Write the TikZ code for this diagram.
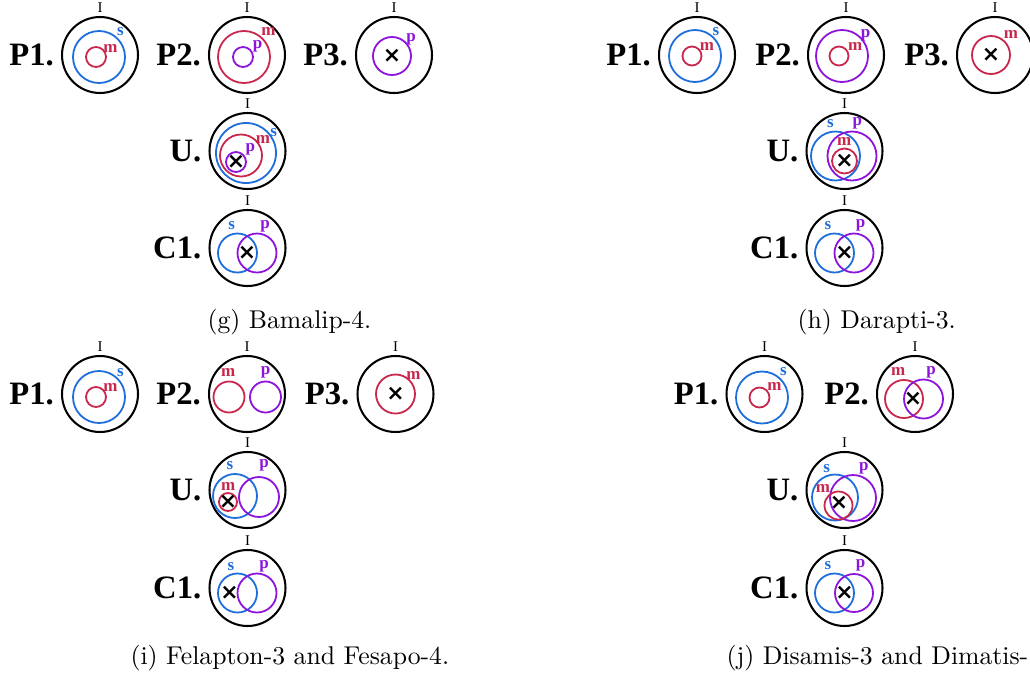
\documentclass[tikz,border=0pt]{standalone}
\usepackage{amsmath}
\usepackage{fontspec}
\usetikzlibrary{positioning}
\newfontfamily\lblfont{Liberation Serif}
\newfontfamily\xfont{DejaVu Sans}
\definecolor{sblue}{HTML}{1E6EDC}
\definecolor{mred}{HTML}{C8284E}
\definecolor{ppurple}{HTML}{8C14DC}

\begin{document}
\begin{tikzpicture}[x=0.389pt, y=-0.389pt,
  univ/.style={circle, draw=black, line width=0.8pt, minimum size=29.56pt, inner sep=0pt, outer sep=0pt},
  sset/.style={draw=sblue, line width=0.7pt},
  mset/.style={draw=mred, line width=0.7pt},
  pset/.style={draw=ppurple, line width=0.7pt},
  prem/.style={font=\lblfont\bfseries\fontsize{12.7}{14}\selectfont, inner sep=0pt},
  itop/.style={font=\lblfont\fontsize{5.8}{6}\selectfont, inner sep=0pt},
  lbl/.style={font=\lblfont\bfseries\fontsize{6.6}{7}\selectfont, inner sep=0pt, text height=3pt, text depth=0pt, text=#1},
  xmark/.style={font=\xfont\bfseries\fontsize{8.5}{9}\selectfont, inner sep=0pt},
  captext/.style={anchor=base west, inner sep=0pt, font=\fontsize{10}{12}\selectfont}
]
  \useasboundingbox (0,0) rectangle (1030,679);
  \clip (0,0) rectangle (1030,679);

  % (g) Bamalip-4
  \node[univ] (gP1) at (100,55) {};
  \node[prem, left=3pt of gP1] (gP1t) {P1.};
  \node[itop, above=1.4pt of gP1] (gP1i) {I};
  \draw[sset] (99,57) circle[radius=26];
  \draw[mset] (96,57) circle[radius=10];
  \node[lbl=sblue] (gP1s) at (120.5,32) {s};
  \node[lbl=mred] (gP1m) at (110.5,49) {m};

  \node[univ] (gP2) at (247,55) {};
  \node[prem, left=3pt of gP2] (gP2t) {P2.};
  \node[itop, above=1.4pt of gP2] (gP2i) {I};
  \draw[mset] (244,57) circle[radius=26];
  \draw[pset] (243,57) circle[radius=10];
  \node[lbl=mred] (gP2m) at (268.5,32) {m};
  \node[lbl=ppurple] (gP2p) at (257.5,45) {p};

  \node[univ] (gP3) at (394,55) {};
  \node[prem, left=3pt of gP3] (gP3t) {P3.};
  \node[itop, above=1.4pt of gP3] (gP3i) {I};
  \draw[pset] (392,56) circle[radius=19];
  \node[xmark] (gP3x) at (392,56) {×};
  \node[lbl=ppurple] (gP3p) at (411,38) {p};

  \node[univ] (gU) at (247.5,151) {};
  \node[prem, left=3pt of gU] (gUt) {U.};
  \node[itop, above=1.4pt of gU] (gUi) {I};
  \draw[sset] (246,153) circle[radius=30];
  \draw[mset] (241,155.5) circle[radius=21];
  \draw[pset] (236,162) circle[radius=10];
  \node[xmark] (gUx) at (236,162) {×};
  \node[lbl=sblue] (gUs) at (273.7,133) {s};
  \node[lbl=mred] (gUm) at (263,140) {m};
  \node[lbl=ppurple] (gUp) at (250.3,148) {p};

  \node[univ] (gC1) at (247.5,248) {};
  \node[prem, left=3pt of gC1] (gC1t) {C1.};
  \node[itop, above=1.4pt of gC1] (gC1i) {I};
  \draw[sset] (237.5,253) circle[radius=19.5];
  \draw[pset] (257,253) circle[radius=19.5];
  \node[xmark] (gC1x) at (247,253) {×};
  \node[lbl=sblue] (gC1s) at (231.7,226) {s};
  \node[lbl=ppurple] (gC1p) at (265,225) {p};

  \node[captext] (gcap) at (207,328) {(g) Bamalip-4.};

  % (h) Darapti-3
  \node[univ] (hP1) at (697,55) {};
  \node[prem, left=3pt of hP1] (hP1t) {P1.};
  \node[itop, above=1.4pt of hP1] (hP1i) {I};
  \draw[sset] (695,56) circle[radius=26];
  \draw[mset] (692,56) circle[radius=9.5];
  \node[lbl=sblue] (hP1s) at (716,32) {s};
  \node[lbl=mred] (hP1m) at (707,47) {m};

  \node[univ] (hP2) at (846,55) {};
  \node[prem, left=3pt of hP2] (hP2t) {P2.};
  \node[itop, above=1.4pt of hP2] (hP2i) {I};
  \draw[pset] (842,56) circle[radius=26];
  \draw[mset] (839,56) circle[radius=9.5];
  \node[lbl=ppurple] (hP2p) at (865.5,33.5) {p};
  \node[lbl=mred] (hP2m) at (855.3,47) {m};

  \node[univ] (hP3) at (995,55) {};
  \node[prem, left=3pt of hP3] (hP3t) {P3.};
  \node[itop, above=1.4pt of hP3] (hP3i) {I};
  \draw[mset] (991,55) circle[radius=19];
  \node[xmark] (hP3x) at (991,55) {×};
  \node[lbl=mred] (hP3m) at (1011,35) {m};

  \node[univ] (hU) at (844.5,151) {};
  \node[prem, left=3pt of hU] (hUt) {U.};
  \node[itop, above=1.4pt of hU] (hUi) {I};
  \draw[sset] (835.5,156) circle[radius=24.5];
  \draw[pset] (852,156) circle[radius=24.5];
  \draw[mset] (844.5,161) circle[radius=12.5];
  \node[xmark] (hUx) at (844.5,161) {×};
  \node[lbl=sblue] (hUs) at (830.5,123.5) {s};
  \node[lbl=ppurple] (hUp) at (857.3,122) {p};
  \node[lbl=mred] (hUm) at (844.3,141.5) {m};

  \node[univ] (hC1) at (844.5,248) {};
  \node[prem, left=3pt of hC1] (hC1t) {C1.};
  \node[itop, above=1.4pt of hC1] (hC1i) {I};
  \draw[sset] (834.5,253) circle[radius=19.5];
  \draw[pset] (854,253) circle[radius=19.5];
  \node[xmark] (hC1x) at (844.5,253) {×};
  \node[lbl=sblue] (hC1s) at (828,226) {s};
  \node[lbl=ppurple] (hC1p) at (860.5,224) {p};

  \node[captext] (hcap) at (797,328) {(h) Darapti-3.};

  % (i) Felapton-3 and Fesapo-4
  \node[univ] (iP1) at (100,394) {};
  \node[prem, left=3pt of iP1] (iP1t) {P1.};
  \node[itop, above=1.4pt of iP1] (iP1i) {I};
  \draw[sset] (99,397) circle[radius=26];
  \draw[mset] (96,397) circle[radius=10];
  \node[lbl=sblue] (iP1s) at (120.3,373) {s};
  \node[lbl=mred] (iP1m) at (110.5,387.8) {m};

  \node[univ] (iP2) at (247,394) {};
  \node[prem, left=3pt of iP2] (iP2t) {P2.};
  \node[itop, above=1.4pt of iP2] (iP2i) {I};
  \draw[mset] (229,397) circle[radius=15.5];
  \draw[pset] (265.5,397) circle[radius=15.5];
  \node[lbl=mred] (iP2m) at (228.3,373) {m};
  \node[lbl=ppurple] (iP2p) at (265.5,371) {p};

  \node[univ] (iP3) at (395.5,394) {};
  \node[prem, left=3pt of iP3] (iP3t) {P3.};
  \node[itop, above=1.4pt of iP3] (iP3i) {I};
  \draw[mset] (395.5,394) circle[radius=19.5];
  \node[xmark] (iP3x) at (395.5,394) {×};
  \node[lbl=mred] (iP3m) at (413.5,375.5) {m};

  \node[univ] (iU) at (247.5,490) {};
  \node[prem, left=3pt of iU] (iUt) {U.};
  \node[itop, above=1.4pt of iU] (iUi) {I};
  \draw[sset] (235,496) circle[radius=22];
  \draw[pset] (259,497) circle[radius=20];
  \draw[mset] (228,502) circle[radius=9];
  \node[xmark] (iUx) at (228,502) {×};
  \node[lbl=sblue] (iUs) at (230,465.5) {s};
  \node[lbl=ppurple] (iUp) at (264,464) {p};
  \node[lbl=mred] (iUm) at (228.3,486.5) {m};

  \node[univ] (iC1) at (247.5,588) {};
  \node[prem, left=3pt of iC1] (iC1t) {C1.};
  \node[itop, above=1.4pt of iC1] (iC1i) {I};
  \draw[sset] (237.5,593) circle[radius=19.5];
  \draw[pset] (257,593) circle[radius=19.5];
  \node[xmark] (iC1x) at (229.5,593) {×};
  \node[lbl=sblue] (iC1s) at (231,567) {s};
  \node[lbl=ppurple] (iC1p) at (264,565) {p};

  \node[captext] (icap) at (130,664) {(i) Felapton-3 and Fesapo-4.};

  % (j) Disamis-3 and Dimatis-4
  \node[univ] (jP1) at (764.5,394) {};
  \node[prem, left=3pt of jP1] (jP1t) {P1.};
  \node[itop, above=1.4pt of jP1] (jP1i) {I};
  \draw[sset] (762,397.5) circle[radius=26];
  \draw[mset] (759.5,397.5) circle[radius=10];
  \node[lbl=sblue] (jP1s) at (783.3,372) {s};
  \node[lbl=mred] (jP1m) at (774.5,387) {m};

  \node[univ] (jP2) at (915,394) {};
  \node[prem, left=3pt of jP2] (jP2t) {P2.};
  \node[itop, above=1.4pt of jP2] (jP2i) {I};
  \draw[mset] (904,399) circle[radius=19];
  \draw[pset] (923.5,399) circle[radius=19.5];
  \node[xmark] (jP2x) at (913,399) {×};
  \node[lbl=mred] (jP2m) at (898.3,372) {m};
  \node[lbl=ppurple] (jP2p) at (931,371) {p};

  \node[univ] (jU) at (844.5,490) {};
  \node[prem, left=3pt of jU] (jUt) {U.};
  \node[itop, above=1.4pt of jU] (jUi) {I};
  \draw[sset] (835,497.5) circle[radius=23];
  \draw[pset] (853,498) circle[radius=23];
  \draw[mset] (838.5,505.5) circle[radius=14];
  \node[xmark] (jUx) at (839,503) {×};
  \node[lbl=sblue] (jUs) at (826.7,469) {s};
  \node[lbl=ppurple] (jUp) at (863.8,467) {p};
  \node[lbl=mred] (jUm) at (823,489) {m};

  \node[univ] (jC1) at (844.5,588) {};
  \node[prem, left=3pt of jC1] (jC1t) {C1.};
  \node[itop, above=1.4pt of jC1] (jC1i) {I};
  \draw[sset] (834.5,593) circle[radius=19.5];
  \draw[pset] (854,593) circle[radius=19];
  \node[xmark] (jC1x) at (844.5,593) {×};
  \node[lbl=sblue] (jC1s) at (828,566) {s};
  \node[lbl=ppurple] (jC1p) at (860.5,564) {p};

  \node[captext] (jcap) at (726,664) {(j) Disamis-3 and Dimatis-};
\end{tikzpicture}
\end{document}
